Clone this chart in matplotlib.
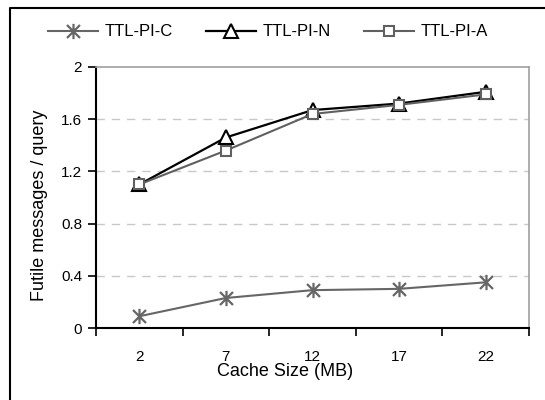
import matplotlib
matplotlib.use("Agg")
import matplotlib.pyplot as plt
from matplotlib.lines import Line2D
from matplotlib.path import Path

plt.rcParams['font.family'] = ['Liberation Sans', 'DejaVu Sans']

categories = ["2", "7", "12", "17", "22"]
ttl_pi_c = [0.09, 0.23, 0.29, 0.30, 0.35]
ttl_pi_n = [1.10, 1.46, 1.67, 1.72, 1.81]
ttl_pi_a = [1.10, 1.36, 1.64, 1.71, 1.79]
y_ticks = [0, 0.4, 0.8, 1.2, 1.6, 2]
y_tick_labels = ["0", "0.4", "0.8", "1.2", "1.6", "2"]

# asterisk marker: vertical bar plus an X
ast = Path([(0, -1), (0, 1), (-0.85, -0.85), (0.85, 0.85), (-0.85, 0.85), (0.85, -0.85)],
           [Path.MOVETO, Path.LINETO, Path.MOVETO, Path.LINETO, Path.MOVETO, Path.LINETO])

W, H = 545, 400
fig = plt.figure(figsize=(W/100, H/100), dpi=100)
ax = fig.add_axes([96/W, 1-328/H, (529-96)/W, (328-67)/H])

x = list(range(len(categories)))
ax.plot(x, ttl_pi_c, color='#666666', lw=1.5, marker=ast, ms=11,
        mew=1.6, label='TTL-PI-C')
ax.plot(x, ttl_pi_n, color='black', lw=1.6, marker='^', ms=10,
        mfc='white', mec='black', mew=1.5, label='TTL-PI-N')
ax.plot(x, ttl_pi_a, color='#606060', lw=1.5, marker='s', ms=7.5,
        mfc='white', mec='#606060', mew=1.5, label='TTL-PI-A')

ax.set_xlim(-0.5, len(categories)-0.5)
ax.set_ylim(0, 2)
ax.set_yticks(y_ticks)
ax.set_yticklabels(y_tick_labels, fontsize=11)
ax.set_xticks([i-0.5 for i in range(len(categories)+1)])
ax.set_xticklabels([])
ax.set_xticks(x, minor=True)
ax.set_xticklabels(categories, minor=True, fontsize=11)
ax.tick_params(axis='x', which='minor', length=0, pad=16)
ax.tick_params(axis='x', which='major', length=6, width=1.2, direction='out')
ax.tick_params(axis='y', length=6, width=1.2, direction='out', pad=4)

for v in y_ticks[1:-1]:
    ax.axhline(v, color='#c8c8c8', lw=1, ls=(0, (6, 5)), zorder=0)

ax.spines['left'].set_color('black')
ax.spines['left'].set_linewidth(1.5)
ax.spines['bottom'].set_color('black')
ax.spines['bottom'].set_linewidth(1.5)
ax.spines['top'].set_color('#a0a0a0')
ax.spines['right'].set_color('#a0a0a0')
ax.spines['top'].set_linewidth(1.2)
ax.spines['right'].set_linewidth(1.2)

fig.text(285/W, 1-371/H, 'Cache Size (MB)', ha='center', va='center', fontsize=13)
fig.text(40/W, 1-205/H, 'Futile messages / query', ha='center', va='center',
         rotation=90, fontsize=13)

fig.legend(loc='center', bbox_to_anchor=(268/W, 1-32/H), ncol=3, frameon=False,
           fontsize=12, handlelength=3.0, handletextpad=0.4, columnspacing=2.0)

fig.add_artist(Line2D([10/W, 10/W, 1], [0, 1-8/H, 1-8/H], transform=fig.transFigure,
                      color='black', lw=1.5))

fig.savefig('out.png', dpi=100)
